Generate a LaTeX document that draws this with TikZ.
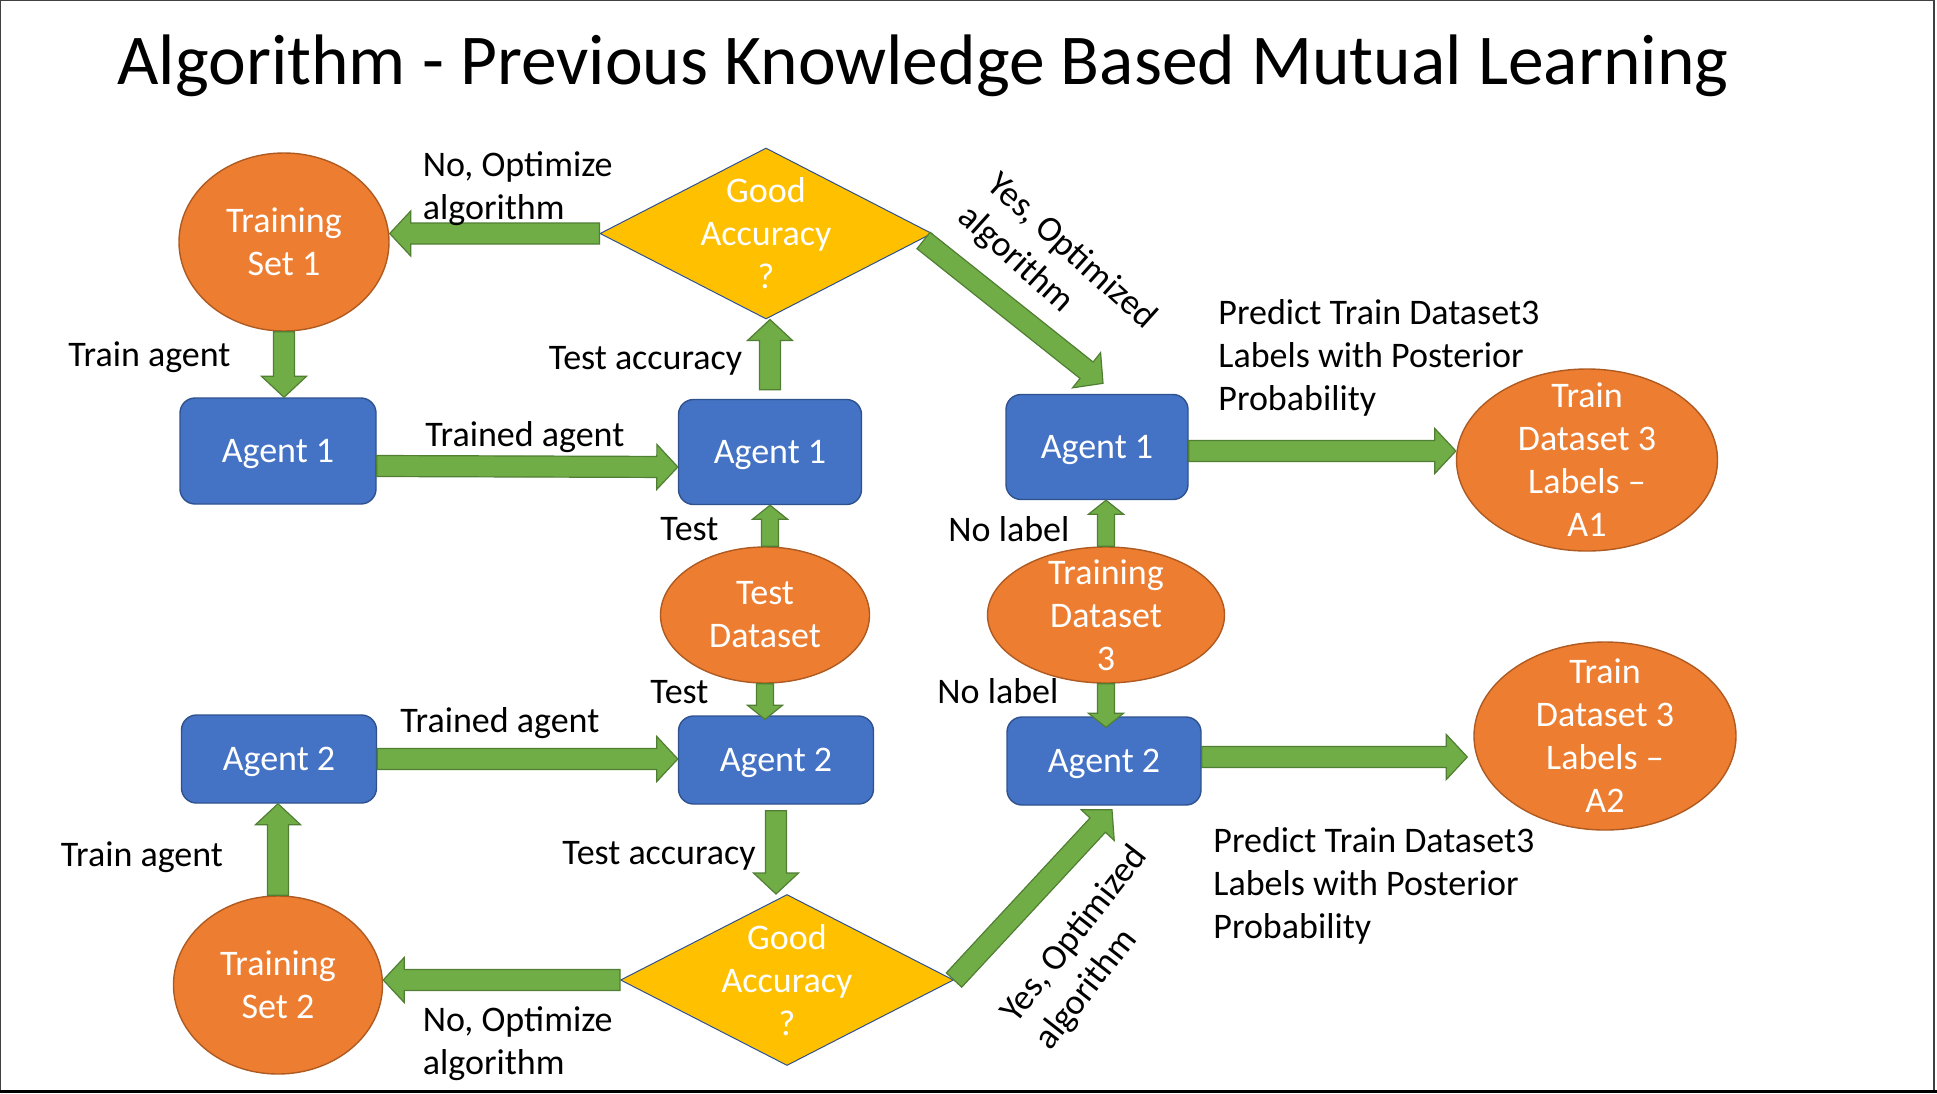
\documentclass[tikz,border=0pt]{standalone}
\usepackage{fontspec}
\setmainfont{Carlito}
\usetikzlibrary{shapes.geometric,calc,positioning}

\definecolor{boxblue}{HTML}{4472C4}
\definecolor{boxblueline}{HTML}{2F528F}
\definecolor{setorange}{HTML}{ED7D31}
\definecolor{setorangeline}{HTML}{AE5A21}
\definecolor{askyellow}{HTML}{FFC000}
\definecolor{arrowgreen}{HTML}{70AD47}
\definecolor{arrowgreenline}{HTML}{507E32}

\tikzset{
  agent/.style={draw=boxblueline,fill=boxblue,text=white,rounded corners=7.5pt,line width=0.7pt,inner sep=0pt,text depth=0pt},
  dataset/.style={ellipse,draw=setorangeline,fill=setorange,line width=0.7pt,inner sep=0pt},
  check/.style={diamond,draw=boxblueline,fill=askyellow,line width=0.5pt,inner sep=0pt},
  intext/.style={text=white,align=center,inner sep=0pt},
  lbl/.style={inner sep=0pt,anchor=base west},
  lbls/.style={inner sep=0pt,anchor=north west,align=left},
  % block arrow: shaft half width, head half width, head length
  fat/.style n args={3}{draw=arrowgreenline,fill=arrowgreen,line width=0.6pt,
    to path={($(\tikztotarget)!#3!(\tikztostart)$) coordinate (fatbase)
      ($(\tikztostart)!#1!90:(\tikztotarget)$)
      -- ($(fatbase)!#1!90:(\tikztotarget)$)
      -- ($(fatbase)!#2!90:(\tikztotarget)$)
      -- (\tikztotarget)
      -- ($(fatbase)!#2!-90:(\tikztotarget)$)
      -- ($(fatbase)!#1!-90:(\tikztotarget)$)
      -- ($(\tikztostart)!#1!-90:(\tikztotarget)$)
      -- cycle}},
  bigarrow/.style={fat={5.25pt}{11.25pt}{10.5pt}},
  smallarrow/.style={fat={4.25pt}{8.75pt}{7pt}},
}

\begin{document}
\begin{tikzpicture}[x=0.5pt,y=-0.5pt,font=\fontsize{18}{21.5}\selectfont]
    \useasboundingbox (0,0) rectangle (1937,1093);
    \draw[black!75,line width=0.6pt] (0.6,0.6) rectangle (1934,1091);
    \draw[line width=1.5pt] (0,1091.5) -- (1937,1091.5);

    \node[lbl,font=\fontsize{35.75}{42}\selectfont] (title) at (117,84) {Algorithm - Previous Knowledge Based Mutual Learning};

    % agent 1 loop
    \node[dataset,minimum width=105pt,minimum height=89pt,label={[intext,name=ts1t]center:Training\\Set 1}] (ts1) at (284,242) {};
    \node[agent,minimum width=98pt,minimum height=53pt] (ag1l) at (278,451) {Agent 1};
    \node[agent,minimum width=91.5pt,minimum height=52.5pt] (ag1m) at (770,452) {Agent 1};
    \node[check,minimum width=166pt,minimum height=85.5pt,label={[intext,name=dia1t]center:Good\\Accuracy\\?}] (dia1) at (766,233.5) {};
    \node[dataset,minimum width=104.5pt,minimum height=68pt,label={[intext,name=tdst]center:Test\\Dataset}] (tds) at (765,615) {};

    % agent 2 loop
    \node[agent,minimum width=97.5pt,minimum height=44pt] (ag2m) at (776,760) {Agent 2};
    \node[agent,minimum width=97.5pt,minimum height=44pt] (ag2l) at (279,759) {Agent 2};
    \node[dataset,minimum width=104.5pt,minimum height=89pt,label={[intext,name=ts2t]center:Training\\Set 2}] (ts2) at (278,985) {};
    \node[check,minimum width=166.5pt,minimum height=85.5pt,label={[intext,name=dia2t]center:Good\\Accuracy\\?}] (dia2) at (787,980) {};

    % prediction
    \node[agent,minimum width=91pt,minimum height=52.5pt] (ag1r) at (1097,447) {Agent 1};
    \node[dataset,minimum width=118.5pt,minimum height=68pt,label={[intext,name=td3t]center:Training\\Dataset\\3}] (td3) at (1106,615) {};
    \node[agent,minimum width=97pt,minimum height=44pt] (ag2r) at (1104,761) {Agent 2};
    \node[dataset,minimum width=130.5pt,minimum height=91pt,label={[intext,name=a1t]center:Train\\Dataset 3\\Labels –\\A1}] (a1) at (1587,460) {};
    \node[dataset,minimum width=131pt,minimum height=94pt,label={[intext,name=a2t]center:Train\\Dataset 3\\Labels –\\A2}] (a2) at (1605,736) {};

    \coordinate (t3) at ([yshift=-7.5pt]ag1m.west);
    \coordinate (t6) at ([yshift=-2pt]tds.south |- ag2m.north);
    \coordinate (t7) at ([xshift=3pt,yshift=5.25pt]ag1r.north);
    \coordinate (t12) at ([xshift=4pt,yshift=-2pt]ag2r.south);
    \coordinate (t14) at ([yshift=-5.5pt]td3.south |- ag2r.north);
    \coordinate (t15) at ([yshift=-2pt]ag1r.east -| a1.west);
    \coordinate (t16) at ([xshift=-3pt,yshift=2pt]ag2r.east -| a2.west);

    \draw[bigarrow] (dia1.west) to (dia1.west -| ts1.east);
    \draw[bigarrow] (ts1.south) to (ts1.south |- ag1l.north);
    \draw[bigarrow] ([yshift=-7.5pt]ag1l.east) to (t3);
    \draw[bigarrow] ([yshift=4.5pt]ag1m.north) to (dia1.south -| ag1m.north);
    \draw[smallarrow] (tds.north -| ag1m.south) to (ag1m.south);
    \draw[smallarrow] (tds.south) to (t6);
    \draw[bigarrow] ([xshift=-4.5pt,yshift=-3.5pt]dia1.east) to (t7);
    \draw[bigarrow] (ag2l.east) to (ag2l.east -| ag2m.west);
    \draw[bigarrow] ([yshift=-3pt]ag2m.south) to (dia2.north -| ag2m.south);
    \draw[bigarrow] (dia2.west) to (dia2.west -| ts2.east);
    \draw[bigarrow] (ts2.north) to (ts2.north |- ag2l.south);
    \draw[bigarrow] (dia2.east) to (t12);
    \draw[smallarrow] (td3.north) to (td3.north |- ag1r.south);
    \draw[smallarrow] (td3.south) to (t14);
    \draw[bigarrow] ([yshift=-2pt]ag1r.east) to (t15);
    \draw[bigarrow] ([yshift=2pt]ag2r.east) to (t16);

    % connector texts
    \node[lbl] (trainlbl1) at (68,366) {Train agent};
    \node[lbl] (acclbl1) at (548.5,369) {Test accuracy};
    \node[lbl] (trainedlbl1) at (425,446.5) {Trained agent};
    \node[lbl] (testlbl1) at (660,540) {Test};
    \node[lbl] (nolabel1) at (948,541) {No label};
    \node[lbl] (nolabel2) at (937,703) {No label};
    \node[lbl] (testlbl2) at (650,703) {Test};
    \node[lbl] (trainedlbl2) at (400,732) {Trained agent};
    \node[lbl] (trainlbl2) at (60.5,866.5) {Train agent};
    \node[lbl] (acclbl2) at (562,864) {Test accuracy};
    \node[lbls] (optlbl1) at (422.5,151) {No, Optimize\\algorithm};
    \node[lbls] (optlbl2) at (422.5,1006) {No, Optimize\\algorithm};
    \node[lbls] (predlbl1) at (1218,299) {Predict Train Dataset3\\Labels with Posterior\\Probability};
    \node[lbls] (predlbl2) at (1213,827) {Predict Train Dataset3\\Labels with Posterior\\Probability};
    \node[inner sep=0pt,align=left,rotate=-42] (yeslbl1) at (1057,268) {Yes, Optimized\\algorithm};
    \node[inner sep=0pt,align=left,rotate=52] (yeslbl2) at (1092,948) {Yes, Optimized\\algorithm};
\end{tikzpicture}
\end{document}
